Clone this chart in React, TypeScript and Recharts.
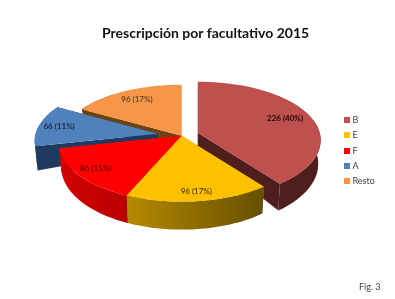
import { PieChart, Pie } from "recharts";

const names = ["B", "E", "F", "A", "Resto"];
const values = [226, 96, 86, 66, 96];
const percents = [40, 17, 15, 11, 17];
const colors = ["#C0504D", "#FFC000", "#FF0000", "#4F81BD", "#F79646"];

const rows = names.map((name, i) => ({ name, value: values[i], percent: percents[i] }));

// back to front, each slice gets its own Pie so the walls overlap properly
const paintOrder = ["Resto", "A", "B", "F", "E"];

// slice extras: explode offset, label distance, wall colours
const sliceStyle: Record<string, any> = {
  B: { dx: 16, dy: -3, labelR: 0.78, wall: ["#4f1f1e", "#4f1f1e"], labelColor: "#1a0808" },
  E: { dx: 0, dy: 0, labelR: 0.88, wall: ["#b58a00", "#665000"], labelColor: "#3a3010" },
  F: { dx: 0, dy: 0, labelR: 0.85, wall: ["#d40000", "#b80000"], labelColor: "#4a0808" },
  A: { dx: -24, dy: -2, labelR: 0.83, wall: ["#1f3a5f", "#1f3a5f"], labelColor: "#10192a" },
  Resto: { dx: 0, dy: 0, labelR: 0.79, wall: ["#6e4310", "#6e4310"], labelColor: "#4a3520" },
};

const CX = 181.7;
const CY = 135.7;
const RX = 122;
const RY = 57.5;
const PERSP = 0.128;

const top = (r: number, deg: number, ox: number, oy: number) => {
  const c = Math.cos((deg * Math.PI) / 180);
  const s = Math.sin((deg * Math.PI) / 180);
  const k = 1 / (1 + PERSP * r * s);
  return [CX + ox + RX * r * c * k, CY + oy - RY * r * s * k];
};

const bottom = (r: number, deg: number, ox: number, oy: number) => {
  const s = Math.sin((deg * Math.PI) / 180);
  const [x, y] = top(r, deg, ox, oy);
  const depth = Math.max(0, 15 + r * (8 - s * (s > 0 ? 33 : 5)));
  return [CX + ox + (x - CX - ox) * 0.98, y + depth];
};

const toPath = (pts: number[][]) =>
  "M" + pts.map((p) => p[0].toFixed(1) + "," + p[1].toFixed(1)).join("L") + "Z";

function Slab(props: any) {
  const { name, startAngle, endAngle, value, payload } = props;
  const st = sliceStyle[name];
  const steps = 48;
  const angles: number[] = [];
  for (let i = 0; i <= steps; i++) angles.push(startAngle + ((endAngle - startAngle) * i) / steps);

  const topArc = angles.map((a) => top(1, a, st.dx, st.dy));
  const botArc = angles.map((a) => bottom(1, a, st.dx, st.dy));
  const apexTop = top(0, 0, st.dx, st.dy);
  const apexBot = bottom(0, 0, st.dx, st.dy);
  const xs = topArc.map((p) => p[0]);
  const gradId = "wall-" + name;
  const mid = (startAngle + endAngle) / 2;
  const lp = top(st.labelR, mid, st.dx, st.dy);

  return (
    <g>
      <defs>
        <linearGradient
          id={gradId}
          gradientUnits="userSpaceOnUse"
          x1={Math.min(...xs)}
          x2={Math.max(...xs)}
          y1={0}
          y2={0}
        >
          <stop offset="0" stopColor={st.wall[0]} />
          <stop offset="1" stopColor={st.wall[1]} />
        </linearGradient>
      </defs>
      <path d={toPath([apexTop, topArc[0], botArc[0], apexBot])} fill={st.wall[0]} />
      <path d={toPath([apexTop, topArc[steps], botArc[steps], apexBot])} fill={st.wall[0]} />
      <path d={toPath([...topArc, ...[...botArc].reverse()])} fill={`url(#${gradId})`} />
      <path d={toPath([apexTop, ...topArc])} fill={props.fill} />
      <text
        x={lp[0]}
        y={lp[1]}
        textAnchor="middle"
        dominantBaseline="middle"
        fontFamily="Lato, 'Open Sans', sans-serif"
        fontSize={8}
        fontWeight={name === "B" ? 700 : 500}
        fill={st.labelColor}
      >
        {`${value} (${payload.percent}%)`}
      </text>
    </g>
  );
}

const textBase: React.CSSProperties = {
  position: "absolute",
  fontFamily: "Lato, 'Open Sans', sans-serif",
  whiteSpace: "nowrap",
};

export default function App() {
  return (
    <div
      style={{
        position: "fixed",
        left: 0,
        top: 0,
        width: 395,
        height: 299,
        background: "#fff",
        overflow: "hidden",
        filter: "blur(0.4px)",
      }}
    >
      <div style={{ ...textBase, left: 102, top: 23, fontSize: 14, lineHeight: "20px", fontWeight: 700, color: "#111" }}>
        Prescripción por facultativo 2015
      </div>
      <PieChart width={395} height={299} style={{ position: "absolute", left: 0, top: 0 }}>
        {paintOrder.map((layer) => (
          <Pie
            key={layer}
            data={rows.map((r, i) => ({ ...r, fill: colors[i] }))}
            dataKey="value"
            nameKey="name"
            cx={CX}
            cy={CY}
            innerRadius={0}
            outerRadius={100}
            startAngle={90}
            endAngle={-270}
            stroke="none"
            isAnimationActive={false}
            shape={(p: any) => (p.name === layer ? <Slab {...p} /> : <g />)}
          />
        ))}
      </PieChart>
      {names.map((name, i) => (
        <div key={name}>
          <div
            style={{
              position: "absolute",
              left: 344,
              top: 117 + i * 15.25,
              width: 6,
              height: 6,
              background: colors[i],
            }}
          />
          <div
            style={{
              ...textBase,
              left: 352.5,
              top: 114 + i * 15.25,
              fontSize: 9,
              lineHeight: "12px",
              color: "#404040",
            }}
          >
            {name}
          </div>
        </div>
      ))}
      <div style={{ ...textBase, left: 359, top: 281, fontSize: 9, lineHeight: "12px", color: "#404040" }}>Fig. 3</div>
    </div>
  );
}
